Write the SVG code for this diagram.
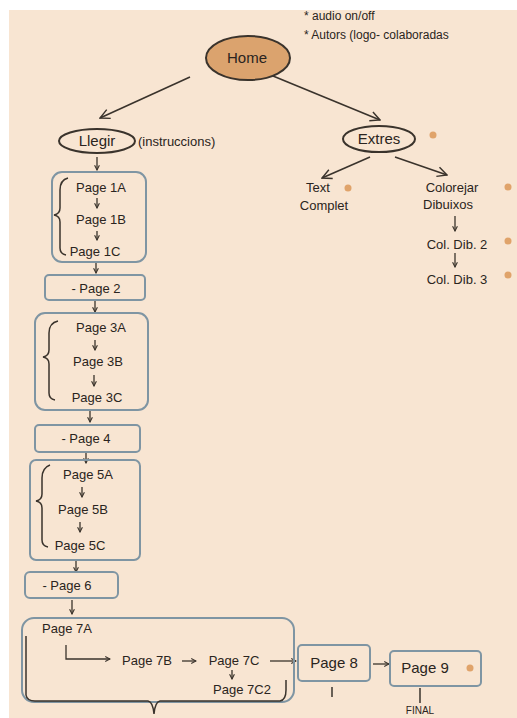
<svg xmlns="http://www.w3.org/2000/svg" width="517" height="718" viewBox="0 0 517 718">
<defs>
<marker id="ahs" viewBox="0 0 10 10" refX="9" refY="5" markerWidth="6" markerHeight="6" orient="auto" markerUnits="userSpaceOnUse">
<path d="M1,1 L9,5 L1,9" fill="none" stroke="#3a332c" stroke-width="1.8"/>
</marker>
<marker id="ahb" viewBox="0 0 10 10" refX="9" refY="5" markerWidth="12" markerHeight="12" orient="auto" markerUnits="userSpaceOnUse">
<path d="M1,1 L9,5 L1,9" fill="none" stroke="#3a332c" stroke-width="1.2"/>
</marker>
</defs>
<style>
text{font-family:"Liberation Sans",Arial,sans-serif;fill:#2a2420;}
.t{font-size:15px;}
.s{font-size:12px;}
.n{font-size:13px;}
.box{fill:none;stroke:#7f95a3;stroke-width:2;}
.ln{fill:none;stroke:#3a332c;stroke-width:1.5;}
.ell{fill:none;stroke:#3a332c;stroke-width:2;}
.dot{fill:#e0a36a;}
.arr{fill:none;stroke:#3a332c;stroke-width:1.3;marker-end:url(#ahs);}
.big{fill:none;stroke:#3a332c;stroke-width:1.6;marker-end:url(#ahb);}
</style>
<rect x="0" y="0" width="517" height="718" fill="#ffffff"/>
<rect x="9" y="10" width="508" height="708" fill="#f8e5d2"/>

<g id="notes">
<text class="s" x="304" y="20">* audio on/off</text>
<text class="s" x="304" y="39">* Autors (logo- colaboradas</text>
</g>

<g id="connectors">
<line class="big" x1="190" y1="77" x2="100" y2="118"/>
<line class="big" x1="273" y1="76" x2="380" y2="120"/>
<line class="big" x1="370" y1="157" x2="322" y2="178"/>
<line class="big" x1="395" y1="157" x2="447" y2="175"/>
<line class="arr" x1="455" y1="216" x2="455" y2="231"/>
<line class="arr" x1="455" y1="253" x2="455" y2="267"/>
<line class="arr" x1="97" y1="157" x2="97" y2="170"/>
<line class="arr" x1="97" y1="198" x2="97" y2="208"/>
<line class="arr" x1="97" y1="231" x2="97" y2="240"/>
<line class="arr" x1="96" y1="262" x2="96" y2="273"/>
<line class="arr" x1="95" y1="301" x2="95" y2="312"/>
<line class="arr" x1="95" y1="340" x2="95" y2="350"/>
<line class="arr" x1="94" y1="375" x2="94" y2="386"/>
<line class="arr" x1="90" y1="411" x2="90" y2="422"/>
<line class="arr" x1="86" y1="453" x2="86" y2="463"/>
<line class="arr" x1="82" y1="487" x2="82" y2="497"/>
<line class="arr" x1="80" y1="522" x2="80" y2="532"/>
<line class="arr" x1="76" y1="560" x2="76" y2="572"/>
<line class="arr" x1="72" y1="600" x2="72" y2="614"/>
<path class="arr" d="M66,645 V659 H110"/>
<line class="arr" x1="182" y1="661" x2="196" y2="661"/>
<line class="arr" x1="232" y1="670" x2="232" y2="679"/>
<line class="arr" x1="270" y1="661" x2="296" y2="661"/>
<line class="arr" x1="373" y1="664" x2="389" y2="664"/>
<line class="ln" x1="332" y1="687" x2="332" y2="697"/>
<line class="ln" x1="420" y1="688" x2="420" y2="703"/>
</g>

<g id="home">
<ellipse cx="248" cy="58" rx="42" ry="22" fill="#dba36e" stroke="#3a332c" stroke-width="2"/>
<text class="t" x="247" y="63" text-anchor="middle">Home</text>
</g>

<g id="llegir">
<ellipse class="ell" cx="97" cy="141" rx="38" ry="12"/>
<text class="t" x="97" y="146" text-anchor="middle">Llegir</text>
<text class="n" x="138" y="146">(instruccions)</text>
</g>

<g id="extres">
<ellipse class="ell" cx="379" cy="139" rx="36" ry="13"/>
<text class="t" x="379" y="144" text-anchor="middle">Extres</text>
<circle class="dot" cx="433" cy="135" r="3.5"/>
</g>

<g id="text-complet">
<text class="n" x="318" y="192" text-anchor="middle">Text</text>
<text class="n" x="324" y="210" text-anchor="middle">Complet</text>
<circle class="dot" cx="348" cy="188" r="3.5"/>
</g>

<g id="colorejar">
<text class="n" x="452" y="192" text-anchor="middle">Colorejar</text>
<text class="n" x="448" y="209" text-anchor="middle">Dibuixos</text>
<circle class="dot" cx="508" cy="187" r="3.5"/>
</g>

<g id="col-dib-2">
<text class="n" x="457" y="249" text-anchor="middle">Col. Dib. 2</text>
<circle class="dot" cx="508" cy="241" r="3.5"/>
</g>

<g id="col-dib-3">
<text class="n" x="457" y="284" text-anchor="middle">Col. Dib. 3</text>
<circle class="dot" cx="508" cy="275" r="3.5"/>
</g>

<g id="page1">
<rect class="box" x="52" y="172" width="94" height="90" rx="10"/>
<path class="ln" d="M68,178 Q60,180 60,190 V208 Q60,214 54,215 Q60,216 60,222 V248 Q60,254 66,255"/>
<text class="n" x="101" y="192" text-anchor="middle">Page 1A</text>
<text class="n" x="101" y="224" text-anchor="middle">Page 1B</text>
<text class="n" x="95" y="256" text-anchor="middle">Page 1C</text>
</g>

<g id="page2">
<rect class="box" x="45" y="275" width="100" height="25" rx="4"/>
<text class="n" x="96" y="293" text-anchor="middle">- Page 2</text>
</g>

<g id="page3">
<rect class="box" x="35" y="313" width="113" height="97" rx="10"/>
<path class="ln" d="M58,321 Q49,323 49,333 V350 Q49,356 43,357 Q49,358 49,364 V393 Q49,399 55,400"/>
<text class="n" x="101" y="332" text-anchor="middle">Page 3A</text>
<text class="n" x="98" y="366" text-anchor="middle">Page 3B</text>
<text class="n" x="97" y="402" text-anchor="middle">Page 3C</text>
</g>

<g id="page4">
<rect class="box" x="35" y="425" width="105" height="27" rx="4"/>
<text class="n" x="86" y="443" text-anchor="middle">- Page 4</text>
</g>

<g id="page5">
<rect class="box" x="30" y="460" width="110" height="100" rx="6"/>
<path class="ln" d="M50,465 Q42,468 42,478 V494 Q42,500 36,501 Q42,502 42,508 V540 Q42,546 48,547"/>
<text class="n" x="88" y="479" text-anchor="middle">Page 5A</text>
<text class="n" x="83" y="514" text-anchor="middle">Page 5B</text>
<text class="n" x="80" y="550" text-anchor="middle">Page 5C</text>
</g>

<g id="page6">
<rect class="box" x="25" y="572" width="93" height="26" rx="5"/>
<text class="n" x="67" y="590" text-anchor="middle">- Page 6</text>
</g>

<g id="page7">
<rect class="box" x="22" y="618" width="272" height="84" rx="12"/>
<path class="ln" d="M26,636 V695 Q27,701 35,701 H148 Q153,702 154,714 Q155,702 160,701 H280 Q286,700 286,690 V680"/>
<text class="n" x="67" y="633" text-anchor="middle">Page 7A</text>
<text class="n" x="147" y="665" text-anchor="middle">Page 7B</text>
<text class="n" x="234" y="665" text-anchor="middle">Page 7C</text>
<text class="n" x="242" y="694" text-anchor="middle">Page 7C2</text>
</g>

<g id="page8">
<rect class="box" x="298" y="645" width="72" height="36" rx="4"/>
<text class="t" x="334" y="668" text-anchor="middle">Page 8</text>
</g>

<g id="page9">
<rect class="box" x="390" y="651" width="91" height="35" rx="4"/>
<text class="t" x="425" y="673" text-anchor="middle">Page 9</text>
<circle class="dot" cx="470" cy="668" r="3.5"/>
<text x="420" y="714" text-anchor="middle" font-size="10">FINAL</text>
</g>
</svg>
